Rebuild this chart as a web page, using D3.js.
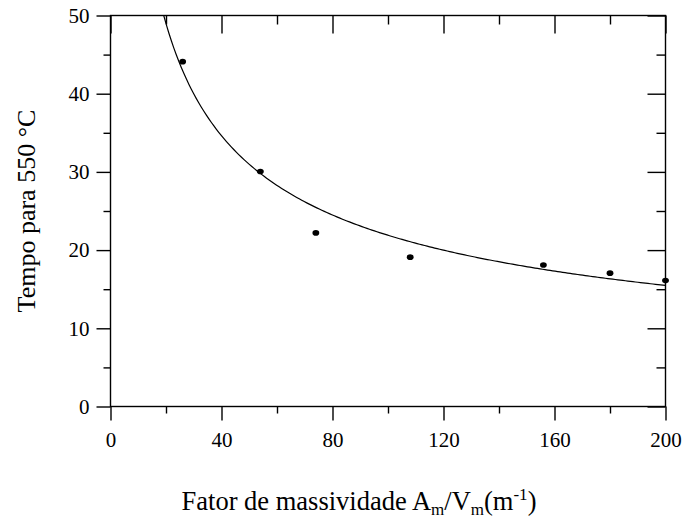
<!DOCTYPE html>
<html>
<head>
<meta charset="utf-8">
<script src="https://cdn.jsdelivr.net/npm/d3@7"></script>
<style>
  html, body { margin: 0; padding: 0; background: #fff; }
  svg { display: block; }
  svg text { font-family: "Liberation Serif", "Times New Roman", Times, serif !important; fill: #000; }
</style>
</head>
<body>
<svg id="chart" width="684" height="523" font-family="Liberation Serif"></svg>
<script>
// Measured section factor (m^-1) and time to reach 550 °C
const factor = [26, 54, 74, 108, 156, 180, 200];
const tempo = [44.1, 30.05, 22.2, 19.1, 18.1, 17.05, 16.1];

// Power-law fit t = a * F^b
const fitA = 219;
const fitB = -0.5;

const xTicks = [0, 40, 80, 120, 160, 200];
const yTicks = [0, 10, 20, 30, 40, 50];
const xMinor = [20, 60, 100, 140, 180];
const yMinor = [5, 15, 25, 35, 45];

const svg = d3.select("#chart");
const plotL = 110.5, plotR = 665.5, plotT = 15.5, plotB = 406.5;

const x = d3.scaleLinear().domain([0, 200]).range([plotL, plotR]);
const y = d3.scaleLinear().domain([0, 50]).range([plotB, plotT]);

const g = svg.append("g");

function styleTicks(s) {
  s.attr("font-family", null).attr("font-size", null);
  s.select(".domain").remove();
  s.selectAll("line").attr("stroke", "#000").attr("stroke-width", 1.4);
}

// frame
g.append("rect")
  .attr("x", plotL).attr("y", plotT)
  .attr("width", plotR - plotL).attr("height", plotB - plotT)
  .attr("fill", "none").attr("stroke", "#000").attr("stroke-width", 1.4);

// bottom axis: outward ticks with labels
const gx = g.append("g").attr("transform", `translate(0,${plotB})`)
  .call(d3.axisBottom(x).tickValues(xTicks).tickSize(14).tickFormat(d3.format("d")))
  .call(styleTicks);
gx.selectAll(".tick text")
  .attr("y", 40.5).attr("dy", null)
  .style("font-size", "21px");
g.append("g").attr("transform", `translate(0,${plotB})`)
  .call(d3.axisBottom(x).tickValues(xMinor).tickSize(7).tickFormat(""))
  .call(styleTicks);

// top axis: inward ticks
g.append("g").attr("transform", `translate(0,${plotT})`)
  .call(d3.axisBottom(x).tickValues(xTicks).tickSize(18).tickFormat(""))
  .call(styleTicks);
g.append("g").attr("transform", `translate(0,${plotT})`)
  .call(d3.axisBottom(x).tickValues(xMinor).tickSize(9).tickFormat(""))
  .call(styleTicks);

// left axis: outward ticks with labels
const gy = g.append("g").attr("transform", `translate(${plotL},0)`)
  .call(d3.axisLeft(y).tickValues(yTicks).tickSize(14).tickFormat(d3.format("d")))
  .call(styleTicks);
gy.selectAll(".tick text")
  .attr("x", -21)
  .style("font-size", "21px");
g.append("g").attr("transform", `translate(${plotL},0)`)
  .call(d3.axisLeft(y).tickValues(yMinor).tickSize(7).tickFormat(""))
  .call(styleTicks);

// right axis: inward ticks
g.append("g").attr("transform", `translate(${plotR},0)`)
  .call(d3.axisLeft(y).tickValues(yTicks).tickSize(18).tickFormat(""))
  .call(styleTicks);
g.append("g").attr("transform", `translate(${plotR},0)`)
  .call(d3.axisLeft(y).tickValues(yMinor).tickSize(9).tickFormat(""))
  .call(styleTicks);

// fitted curve, clipped to the plot area
svg.append("clipPath").attr("id", "plotClip")
  .append("rect").attr("x", plotL).attr("y", plotT)
  .attr("width", plotR - plotL).attr("height", plotB - plotT);
const xStart = Math.pow(50 / fitA, 1 / fitB);
const fitPts = d3.range(0, 201).map(i => {
  const f = xStart + (200 - xStart) * i / 200;
  return [f, fitA * Math.pow(f, fitB)];
});
g.append("path")
  .datum(fitPts)
  .attr("clip-path", "url(#plotClip)")
  .attr("fill", "none").attr("stroke", "#000").attr("stroke-width", 1.2)
  .attr("d", d3.line().x(d => x(d[0])).y(d => y(d[1])));

// measured points
g.selectAll("ellipse.pt")
  .data(factor.map((f, i) => [f, tempo[i]]))
  .join("ellipse")
  .attr("class", "pt")
  .attr("cx", d => x(d[0])).attr("cy", d => y(d[1]))
  .attr("rx", 3.4).attr("ry", 2.8)
  .attr("fill", "#000");

// y-axis title
svg.append("text")
  .attr("transform", `translate(35,211) rotate(-90)`)
  .attr("text-anchor", "middle")
  .style("font-size", "26px")
  .text("Tempo para 550 °C");

// x-axis title with sub/superscripts
const xt = svg.append("text")
  .attr("x", 359).attr("y", 510)
  .attr("text-anchor", "middle")
  .style("font-size", "26.5px");
xt.append("tspan").text("Fator de massividade A");
xt.append("tspan").attr("dy", 5).style("font-size", "17px").text("m");
xt.append("tspan").attr("dy", -5).text("/V");
xt.append("tspan").attr("dy", 5).style("font-size", "17px").text("m");
xt.append("tspan").attr("dy", -5).text("(m");
xt.append("tspan").attr("dy", -10).style("font-size", "17px").text("-1");
xt.append("tspan").attr("dy", 10).text(")");
</script>
</body>
</html>
